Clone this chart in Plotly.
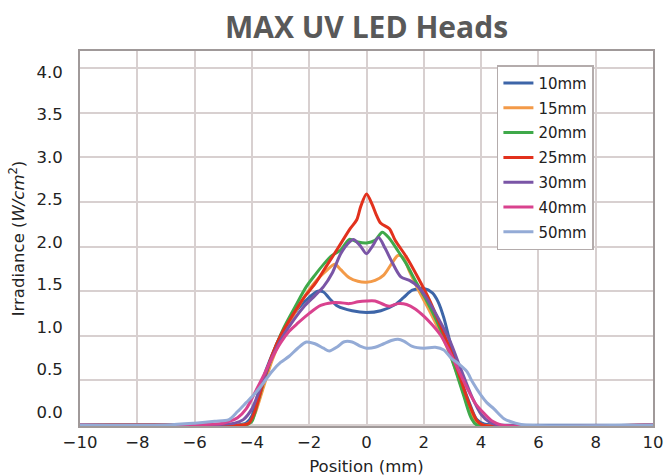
import plotly.graph_objects as go

# ---------------- data ----------------
series_names = ["10mm", "15mm", "20mm", "25mm", "30mm", "40mm", "50mm"]
series_colors = ["#3d65a8", "#f39a48", "#3fa94a", "#e2311d", "#7a55a6", "#d9428e", "#94abd6"]

x10 = [-10, -6, -4.5, -4.2, -4.0, -3.8, -3.5, -3.2, -3.0, -2.7, -2.4, -2.0, -1.7, -1.5, -1.3, -1.0,
       -0.5, 0, 0.5, 1.0, 1.3, 1.6, 2.0, 2.3, 2.5, 2.7, 3.0, 3.3, 3.6, 3.85, 4.1, 4.5, 10]
y10 = [0, 0, 0, 0.02, 0.1, 0.33, 0.62, 0.86, 1.0, 1.17, 1.3, 1.43, 1.5, 1.49, 1.42, 1.33,
       1.28, 1.26, 1.28, 1.35, 1.43, 1.51, 1.53, 1.48, 1.38, 1.2, 0.82, 0.5, 0.24, 0.06, 0.01, 0, 0]

x15 = [-10, -5, -4.3, -4.1, -3.9, -3.6, -3.3, -3.0, -2.6, -2.2, -1.8, -1.4, -1.1, -0.9, -0.6, -0.3,
       0, 0.3, 0.6, 0.9, 1.1, 1.3, 1.5, 1.8, 2.1, 2.4, 2.7, 3.0, 3.3, 3.55, 3.8, 4.0, 10]
y15 = [0, 0, 0, 0.02, 0.12, 0.42, 0.72, 0.95, 1.2, 1.42, 1.6, 1.73, 1.8, 1.74, 1.65, 1.61,
       1.6, 1.62, 1.68, 1.82, 1.9, 1.87, 1.72, 1.52, 1.34, 1.15, 0.95, 0.72, 0.44, 0.2, 0.03, 0, 0]

x20 = [-10, -5, -4.2, -4.0, -3.8, -3.5, -3.2, -2.9, -2.5, -2.1, -1.8, -1.5, -1.2, -0.9, -0.6, -0.3,
       0, 0.3, 0.55, 0.8, 1.1, 1.4, 1.7, 2.0, 2.4, 2.8, 3.1, 3.4, 3.65, 3.85, 10]
y20 = [0, 0, 0, 0.04, 0.25, 0.58, 0.85, 1.08, 1.32, 1.55, 1.68, 1.8, 1.9, 1.96, 2.08, 2.05,
       2.04, 2.07, 2.16, 2.09, 1.95, 1.8, 1.62, 1.45, 1.2, 0.9, 0.62, 0.32, 0.08, 0.0, 0]

x25 = [-10, -5, -4.3, -4.1, -3.9, -3.6, -3.3, -3.0, -2.6, -2.2, -1.8, -1.4, -1.0, -0.57, -0.34,
       -0.2, 0, 0.2, 0.35, 0.5, 0.8, 1.0, 1.4, 1.8, 2.2, 2.6, 3.0, 3.3, 3.6, 3.85, 4.05, 10]
y25 = [0, 0, 0, 0.02, 0.15, 0.48, 0.78, 1.0, 1.22, 1.42, 1.58, 1.78, 1.98, 2.2, 2.3,
       2.45, 2.59, 2.47, 2.35, 2.26, 2.2, 2.07, 1.88, 1.65, 1.4, 1.1, 0.78, 0.5, 0.22, 0.05, 0, 0]

x30 = [-10, -5.5, -4.6, -4.3, -4.0, -3.7, -3.4, -3.0, -2.6, -2.2, -1.8, -1.5, -1.2, -0.9, -0.6,
       -0.45, -0.2, 0, 0.2, 0.42, 0.65, 0.9, 1.2, 1.5, 1.8, 2.1, 2.5, 2.9, 3.3, 3.7, 4.0, 4.3, 4.6, 10]
y30 = [0, 0, 0.02, 0.06, 0.18, 0.42, 0.68, 0.95, 1.15, 1.32, 1.45, 1.55, 1.7, 1.92, 2.05,
       2.08, 2.0, 1.92, 2.0, 2.1, 1.98, 1.82, 1.66, 1.62, 1.55, 1.42, 1.2, 0.95, 0.62, 0.3, 0.12, 0.03, 0, 0]

x40 = [-10, -6, -5, -4.7, -4.5, -4.2, -3.9, -3.6, -3.3, -3.0, -2.7, -2.4, -2.0, -1.6, -1.2, -0.9,
       -0.6, -0.3, 0, 0.3, 0.6, 0.8, 1.1, 1.4, 1.7, 2.0, 2.3, 2.6, 2.9, 3.2, 3.5, 3.8, 4.1, 4.4, 4.7, 10]
y40 = [0, 0, 0.02, 0.05, 0.08, 0.18, 0.36, 0.55, 0.75, 0.92, 1.05, 1.14, 1.25, 1.34, 1.37, 1.37,
       1.36, 1.38, 1.39, 1.39, 1.35, 1.33, 1.36, 1.35, 1.3, 1.22, 1.12, 1.0, 0.82, 0.62, 0.42, 0.24, 0.13, 0.04, 0, 0]

x50 = [-10, -7, -6, -5.3, -4.8, -4.5, -4.2, -3.9, -3.6, -3.3, -3.0, -2.7, -2.4, -2.1, -1.8, -1.5,
       -1.3, -1.0, -0.8, -0.5, -0.2, 0, 0.3, 0.6, 0.9, 1.1, 1.3, 1.6, 2.0, 2.4, 2.7, 2.95, 3.2,
       3.5, 3.7, 4.0, 4.2, 4.45, 4.8, 5.2, 5.5, 10]
y50 = [0, 0, 0.02, 0.04, 0.06, 0.15, 0.25, 0.35, 0.47, 0.6, 0.7, 0.77, 0.86, 0.93, 0.91, 0.86,
       0.83, 0.88, 0.93, 0.93, 0.88, 0.86, 0.87, 0.91, 0.95, 0.96, 0.94, 0.88, 0.86, 0.87, 0.84, 0.75, 0.69,
       0.6, 0.48, 0.33, 0.25, 0.18, 0.07, 0.02, 0, 0]

xs = [x10, x15, x20, x25, x30, x40, x50]
ys = [y10, y15, y20, y25, y30, y40, y50]

y_tick_labels = [0.0, 0.5, 1.0, 1.5, 2.0, 2.5, 3.0, 3.5, 4.0]
x_tick_labels = [-10, -8, -6, -4, -2, 0, 2, 4, 6, 8, 10]

# The printed y labels of the source figure sit on a slightly different scale
# than its gridlines; these two constants place them as in the original.
LABEL_ZERO = 0.148
LABEL_SCALE = 85.0 / 89.2
y_tick_positions = [LABEL_ZERO + v * LABEL_SCALE for v in y_tick_labels]
y_tick_text = [f"{v:.1f}" for v in y_tick_labels]

# ---------------- figure ----------------
FONT = "DejaVu Sans"
fig = go.Figure()
for name, color, x, y in zip(series_names, series_colors, xs, ys):
    fig.add_trace(go.Scatter(
        x=x, y=y, name=name, mode="lines", legendgroup=name,
        line=dict(color=color, width=3, shape="spline", smoothing=0.8),
    ))

grid_color = "#d8d0d0"
frame_color = "#a09999"

fig.update_layout(
    width=665, height=476,
    margin=dict(l=80, r=12, t=51, b=50),
    paper_bgcolor="white", plot_bgcolor="white",
    title=dict(
        text="<b>MAX UV LED Heads</b>",
        x=0.5, xref="paper", xanchor="center",
        y=1 - 27 / 476, yref="container", yanchor="middle",
        font=dict(family="Open Sans", size=30, color="#595959"),
    ),
    font=dict(family=FONT, color="#222222"),
    showlegend=True,
    legend=dict(
        x=0.7276, y=0.962, xanchor="left", yanchor="top",
        bgcolor="white", bordercolor="#b4acac", borderwidth=1.5,
        font=dict(family=FONT, size=15, color="#222222"),
        tracegroupgap=2.3,
    ),
    xaxis=dict(
        range=[-10, 10], tickvals=x_tick_labels,
        showgrid=True, gridcolor=grid_color, gridwidth=1.5,
        showline=True, linecolor=frame_color, linewidth=2, mirror=True,
        zeroline=False, automargin=False,
        ticks="",
        tickfont=dict(family=FONT, size=16.5, color="#222222"),
        title=dict(text="Position (mm)", font=dict(family=FONT, size=16.5, color="#222222"), standoff=10),
    ),
    yaxis=dict(
        range=[-0.012, 4.192],
        tickmode="array", tickvals=y_tick_positions, ticktext=y_tick_text,
        showgrid=False,
        minor=dict(tickmode="linear", tick0=0, dtick=0.5, showgrid=True,
                   gridcolor=grid_color, gridwidth=1.5, ticks=""),
        showline=True, linecolor=frame_color, linewidth=2, mirror=True,
        zeroline=False, automargin=False,
        ticks="outside", ticklen=12, tickcolor="rgba(0,0,0,0)",
        tickfont=dict(family=FONT, size=16.5, color="#222222"),
        title=dict(text="Irradiance (<i>W/cm</i><sup>2</sup>)",
                   font=dict(family=FONT, size=16.5, color="#222222"), standoff=8),
    ),
)

fig.write_html("out.html", config={"displayModeBar": False},
               post_script="document.body.style.margin='0px';")
